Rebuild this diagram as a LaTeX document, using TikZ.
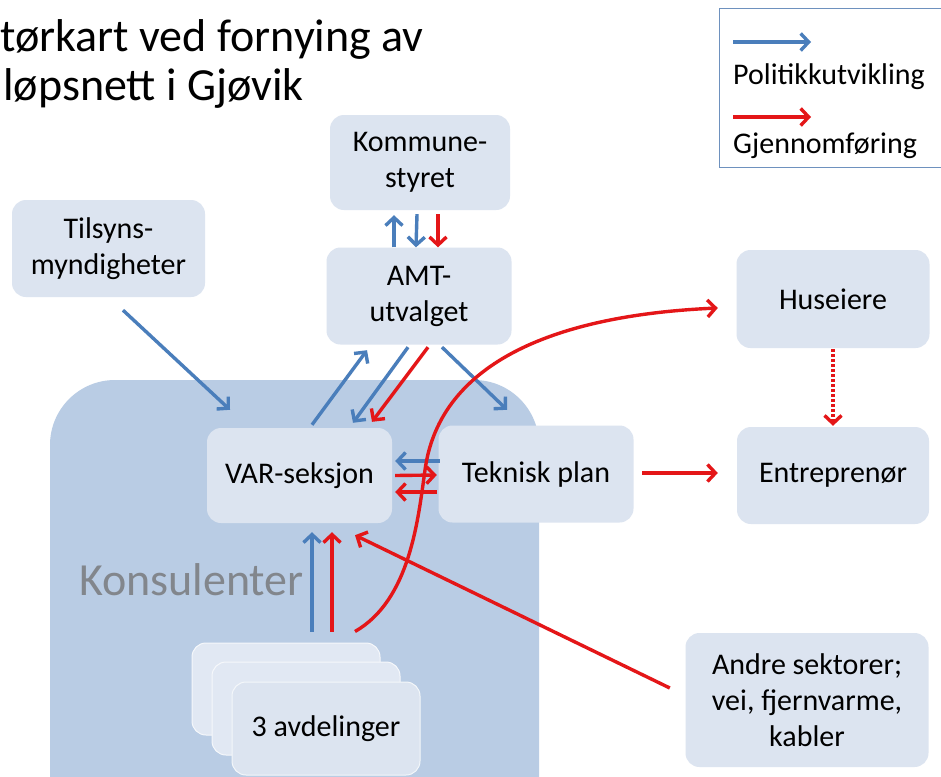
\documentclass[tikz,border=0pt]{standalone}
\usepackage{fontspec}
\setmainfont{Carlito}
\usetikzlibrary{arrows.meta,calc}
\definecolor{boxfill}{RGB}{220,228,240}
\definecolor{backfill}{RGB}{225,232,243}
\definecolor{konsfill}{RGB}{185,204,228}
\definecolor{polblue}{RGB}{74,126,187}
\definecolor{gjred}{RGB}{228,22,24}
\definecolor{legframe}{RGB}{110,145,190}
\definecolor{konstext}{RGB}{130,134,140}
\tikzset{
  card/.style={rectangle, rounded corners=14pt, fill=boxfill, inner sep=0pt,
    align=center, font=\fontsize{30}{36}\selectfont, text=black},
  backcard/.style={rectangle, rounded corners=14pt, fill=backfill, draw=white!70!backfill,
    line width=1pt, inner sep=0pt},
  tip/.style={-{Straight Barb[length=8pt,width=17pt]}},
  pa/.style={tip, draw=polblue, line width=3.4pt},
  ga/.style={tip, draw=gjred, line width=3.4pt},
}
\begin{document}
\begin{tikzpicture}[x=1pt,y=-1pt]
\useasboundingbox (0,0) rectangle (941,776);
\fill[white] (0,0) rectangle (941,776);

% title
\node[anchor=base west, inner sep=0pt, font=\fontsize{46}{50}\selectfont] (title1) at (0,52) {tørkart ved fornying av};
\node[anchor=base west, inner sep=0pt, font=\fontsize{46}{50}\selectfont] (title2) at (3,100) {løpsnett i Gjøvik};

% legend
\node[draw=legframe, line width=1pt, fill=white, rectangle, minimum width=226pt, minimum height=159pt, anchor=north west, inner sep=0pt] (legend) at (719,8) {};
\coordinate (lb1) at (733,42);
\coordinate (lb2) at (811,42);
\coordinate (lr1) at (733,117);
\coordinate (lr2) at (811,117);
\draw[pa] (lb1) -- (lb2);
\draw[ga] (lr1) -- (lr2);
\node[anchor=base west, inner sep=0pt, font=\fontsize{30}{36}\selectfont] (legpol) at (733,84) {Politikkutvikling};
\node[anchor=base west, inner sep=0pt, font=\fontsize{30}{36}\selectfont] (leggj) at (733,153) {Gjennomføring};

% consultants region
\fill[konsfill, rounded corners=65pt] (50,380) rectangle (539,860);
\node[anchor=west, inner sep=0pt, text=konstext, font=\fontsize{46}{50}\selectfont] (kons) at (79,580) {Konsulenter};

% boxes
\node[card, minimum width=180pt, minimum height=95pt] (kom) at (420,162.5) {\raisebox{-4pt}{Kommune-}\\\raisebox{-4pt}{styret}};
\node[card, minimum width=193pt, minimum height=97pt] (tils) at (108.5,248.5) {Tilsyns-\\myndigheter};
\node[card, minimum width=185pt, minimum height=97pt] (amt) at (419,296) {AMT-\\utvalget};
\node[card, minimum width=193pt, minimum height=98pt] (hus) at (833,299) {Huseiere};
\node[card, minimum width=192pt, minimum height=97pt] (ent) at (833,475.5) {Entreprenør};
\node[card, minimum width=185pt, minimum height=95pt] (var) at (299.5,475.5) {VAR-seksjon};
\node[card, minimum width=195pt, minimum height=97pt] (tek) at (536,474) {Teknisk plan};
\node[backcard, minimum width=188pt, minimum height=92pt] (avd1) at (286,689) {};
\node[backcard, minimum width=188pt, minimum height=93pt] (avd2) at (306,708.5) {};
\node[card, draw=white!70!boxfill, line width=1pt, minimum width=188pt, minimum height=93pt] (avd3) at (326,728.5) {3 avdelinger};
\node[card, minimum width=243pt, minimum height=134pt] (andre) at (807,700) {Andre sektorer;\\vei, fjernvarme,\\kabler};

% Kommunestyret <-> AMT
\draw[pa] ($(amt.north)+(-25,0)$) -- ($(kom.south)+(-26,5)$);
\draw[pa] ($(kom.south)+(-3,4)$) -- ($(amt.north)+(-3,0)$);
\draw[ga] ($(kom.south)+(18,4)$) -- ($(amt.north)+(19,0)$);

% AMT <-> VAR, Teknisk
\draw[pa] ($(var.north)+(12.5,-3)$) -- ($(amt.south)+(-52,5.5)$);
\draw[pa] ($(amt.south)+(-11,2.5)$) -- ($(var.north)+(53.5,-5)$);
\draw[ga] ($(amt.south)+(9,2.5)$) -- ($(var.north)+(72.5,-6)$);
\draw[pa] ($(amt.south)+(23,2.5)$) -- ($(tek.north)+(-29,-15.5)$);

% Tilsyn -> VAR
\draw[pa] ($(tils.south)+(14.5,13)$) -- ($(var.north)+(-69.5,-18)$);

% VAR <-> Teknisk
\draw[pa] ($(tek.west)+(1.5,-13)$) -- ($(var.east)+(3,-14.5)$);
\draw[ga] ($(var.east)+(3,0)$) -- ($(tek.west)+(-1.5,1)$);
\draw[ga] ($(tek.west)+(-1.5,18)$) -- ($(var.east)+(3,16.5)$);

% avdelinger -> VAR
\draw[pa] ($(avd1.north)+(26,-11)$) -- ($(var.south)+(12.5,9)$);
\draw[ga] ($(avd1.north)+(46,-11)$) -- ($(var.south)+(32.5,9)$);

% Andre sektorer -> VAR
\draw[ga] ($(andre.west)+(-15.5,-12)$) -- ($(var.south)+(55.5,12)$);

% avdelinger -> Huseiere (curve)
\draw[ga] ($(avd1.north)+(69,-11)$) .. controls (410,600) and (418,520) .. (425,470)
   .. controls (440,360) and (560,315) .. ($(hus.west)+(-18.5,9)$);

% Teknisk -> Entreprenor
\draw[ga] ($(tek.east)+(8.5,-1)$) -- ($(ent.west)+(-19,-2.5)$);

% Huseiere -> Entreprenor (dotted)
\draw[ga, dash pattern=on 3pt off 2pt] ($(hus.south)+(0,1)$) -- ($(ent.north)+(0,-1)$);
\end{tikzpicture}
\end{document}
